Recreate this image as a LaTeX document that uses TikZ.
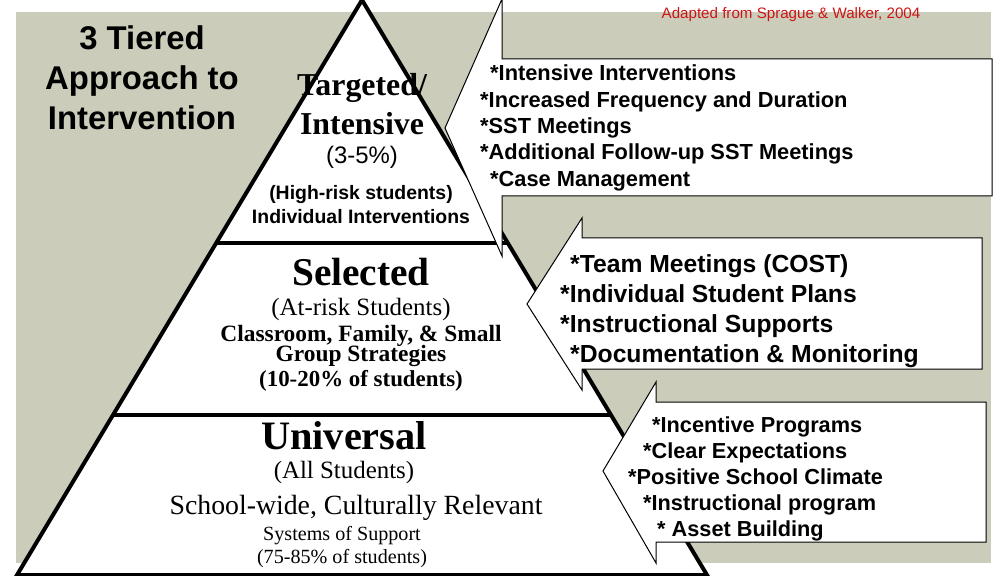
\documentclass[tikz,border=0pt]{standalone}
\usepackage{fontspec}
\setmainfont{Liberation Serif}
\setsansfont{Liberation Sans}
\usetikzlibrary{calc}
\definecolor{backgray}{RGB}{203,205,186}
\definecolor{adaptred}{RGB}{204,20,20}

\begin{document}
\begin{tikzpicture}[x=1bp,y=-1bp,
  tier/.style={draw=black,line width=4bp,fill=white},
  divider/.style={draw=black,line width=4bp},
  callout/.style={draw=black,line width=1bp,fill=white},
  bigserif/.style={font=\fontsize{#1}{#1}\selectfont\bfseries},
  sansbold/.style={font=\sffamily\bfseries\fontsize{#1}{#1}\selectfont},
  inner sep=0pt]

  \useasboundingbox (0,0) rectangle (1008,576);
  \fill[backgray] (16,12) rectangle (991,563);

  % pyramid
  \coordinate (apex) at (362,0);
  \coordinate (bl) at (17,575);
  \coordinate (br) at (707,575);
  \filldraw[tier] (apex) -- (br) -- (bl) -- cycle;
  \draw[divider] ($(apex)!0.4226!(bl)$) -- ($(apex)!0.4226!(br)$);
  \draw[divider] ($(apex)!0.7217!(bl)$) -- ($(apex)!0.7217!(br)$);

  % callouts
  \coordinate (c1tip) at (445,128);
  \filldraw[callout] (502,59) -- (992,59) -- (992,196) -- (502,196)
    -- (502,256) -- (c1tip) -- (502,-1) -- cycle;
  \coordinate (c2tip) at (527,304);
  \filldraw[callout] (582,238) -- (982,238) -- (982,369) -- (582,369)
    -- (582,390) -- (c2tip) -- (582,218) -- cycle;
  \coordinate (c3tip) at (603,471);
  \filldraw[callout] (656,402) -- (986,402) -- (986,542) -- (656,542)
    -- (656,563) -- (c3tip) -- (656,382) -- cycle;

  % texts
  \node[align=center,sansbold=33] (title) at (142,78)
    {3 Tiered\\[7bp]Approach to\\[7bp]Intervention};
  \node[font=\sffamily\fontsize{15.2}{16}\selectfont,text=adaptred] (source) at (791,15)
    {Adapted from Sprague \& Walker, 2004};

  \node[align=center,bigserif=32] (targeted) at (362,104) {Targeted/\\[7bp]Intensive};
  \node[font=\sffamily\fontsize{24}{24}\selectfont] (pct3) at (362,157) {(3-5\%)};
  \node[align=center,sansbold=19.5] (highrisk) at (361,205)
    {(High-risk students)\\[4.5bp]Individual Interventions};

  \node[bigserif=39.5] (selected) at (361,272) {Selected};
  \node[font=\fontsize{25}{25}\selectfont] (atrisk) at (361,310) {(At-risk Students)};
  \node[align=center,bigserif=23.5] (classroom) at (361,346)
    {Classroom, Family, \& Small\\[-3bp]Group Strategies};
  \node[bigserif=23] (pct10) at (361,381) {(10-20\% of students)};

  \node[bigserif=40.5] (universal) at (344,436) {Universal};
  \node[font=\fontsize{25}{25}\selectfont] (allstud) at (344,473) {(All Students)};
  \node[font=\fontsize{27.9}{27.9}\selectfont] (schoolwide) at (356,508)
    {School-wide, Culturally Relevant};
  \node[align=center,font=\fontsize{20.2}{23}\selectfont] (systems) at (342,547)
    {Systems of Support\\(75-85\% of students)};

  \node[align=left,anchor=west,font=\sffamily\bfseries\fontsize{21.9}{26.5}\selectfont]
    (list1) at (480,128)
    {\hspace*{10bp}*Intensive Interventions\\
     *Increased Frequency and Duration\\
     *SST Meetings\\
     *Additional Follow-up SST Meetings\\
     \hspace*{10bp}*Case Management};
  \node[align=left,anchor=west,font=\sffamily\bfseries\fontsize{24.8}{30}\selectfont]
    (list2) at (560,311)
    {\hspace*{10bp}*Team Meetings (COST)\\
     *Individual Student Plans\\
     *Instructional Supports\\
     \hspace*{10bp}*Documentation \& Monitoring};
  \node[align=left,anchor=west,font=\sffamily\bfseries\fontsize{21.8}{26}\selectfont]
    (list3) at (628,479)
    {\hspace*{24bp}*Incentive Programs\\
     \hspace*{15bp}*Clear Expectations\\
     *Positive School Climate\\
     \hspace*{15bp}*Instructional program\\
     \hspace*{29bp}* Asset Building};

\end{tikzpicture}
\end{document}
